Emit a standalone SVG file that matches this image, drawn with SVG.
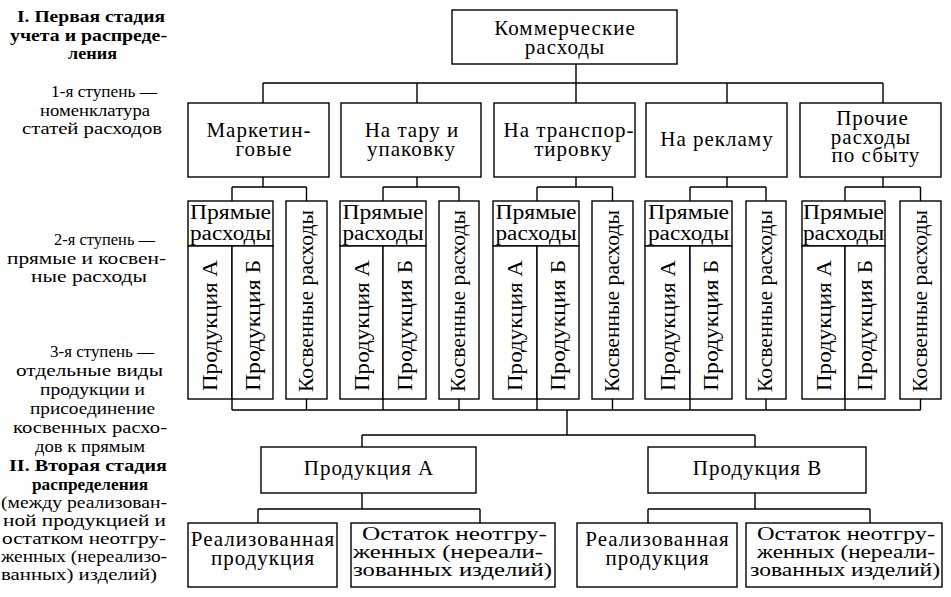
<svg xmlns="http://www.w3.org/2000/svg" width="951" height="597" viewBox="0 0 951 597">
<style>
.box{fill:#fff;stroke:#000;stroke-width:1.4}
.conn{fill:none;stroke:#000;stroke-width:1.4}
.t{font-family:"Liberation Serif","Times New Roman",serif;font-size:21px;letter-spacing:1px;text-anchor:middle;fill:#000}
.s{font-family:"Liberation Serif","Times New Roman",serif;font-size:19.5px;text-anchor:middle;fill:#000}
.h{font-family:"Liberation Serif","Times New Roman",serif;font-size:20px;text-anchor:middle;fill:#000}
.r{font-family:"Liberation Serif","Times New Roman",serif;font-size:20px;fill:#000}
.l{font-family:"Liberation Serif","Times New Roman",serif;font-size:17px;fill:#000}
.b{font-weight:bold}
</style>
<rect width="951" height="597" fill="#fff"/>
<g id="labels">
<text class="l b" x="17" y="22" textLength="148" lengthAdjust="spacingAndGlyphs">I. Первая стадия</text>
<text class="l b" x="10" y="41" textLength="157" lengthAdjust="spacingAndGlyphs">учета и распреде-</text>
<text class="l b" x="68" y="59" textLength="49" lengthAdjust="spacingAndGlyphs">ления</text>
<text class="l" x="51" y="97" textLength="106" lengthAdjust="spacingAndGlyphs">1-я ступень —</text>
<text class="l" x="40" y="116" textLength="110" lengthAdjust="spacingAndGlyphs">номенклатура</text>
<text class="l" x="22" y="134" textLength="140" lengthAdjust="spacingAndGlyphs">статей расходов</text>
<text class="l" x="54" y="245" textLength="101" lengthAdjust="spacingAndGlyphs">2-я ступень —</text>
<text class="l" x="7" y="264" textLength="159" lengthAdjust="spacingAndGlyphs">прямые и косвен-</text>
<text class="l" x="31" y="282" textLength="116" lengthAdjust="spacingAndGlyphs">ные расходы</text>
<text class="l" x="50" y="357" textLength="104" lengthAdjust="spacingAndGlyphs">3-я ступень —</text>
<text class="l" x="16" y="376" textLength="147" lengthAdjust="spacingAndGlyphs">отдельные виды</text>
<text class="l" x="40" y="395" textLength="105" lengthAdjust="spacingAndGlyphs">продукции и</text>
<text class="l" x="30" y="414" textLength="125" lengthAdjust="spacingAndGlyphs">присоединение</text>
<text class="l" x="13" y="433" textLength="154" lengthAdjust="spacingAndGlyphs">косвенных расхо-</text>
<text class="l" x="35" y="452" textLength="110" lengthAdjust="spacingAndGlyphs">дов к прямым</text>
<text class="l b" x="9" y="471" textLength="158" lengthAdjust="spacingAndGlyphs">II. Вторая стадия</text>
<text class="l b" x="32" y="490" textLength="116" lengthAdjust="spacingAndGlyphs">распределения</text>
<text class="l" x="1" y="508" textLength="166" lengthAdjust="spacingAndGlyphs">(между реализован-</text>
<text class="l" x="3" y="526" textLength="163" lengthAdjust="spacingAndGlyphs">ной продукцией и</text>
<text class="l" x="2" y="544" textLength="164" lengthAdjust="spacingAndGlyphs">остатком неотгру-</text>
<text class="l" x="1" y="562" textLength="166" lengthAdjust="spacingAndGlyphs">женных (нереализо-</text>
<text class="l" x="1" y="580" textLength="156" lengthAdjust="spacingAndGlyphs">ванных) изделий)</text>
</g>
<g id="connectors">
<path class="conn" d="M576,64V83M263,83H883M263,83V103M417,83V103M576,83V103M727,83V103M883,83V103"/>
<path class="conn" d="M263,177V187M232,187H306.5M232,187V201M306.5,187V201M417,177V187M383,187H459M383,187V201M459,187V201M576,177V187M537,187H612.5M537,187V201M612.5,187V201M727,177V187M690,187H766M690,187V201M766,187V201M883,177V187M845,187H920.5M845,187V201M920.5,187V201"/>
<path class="conn" d="M232,399V410M306.5,399V410M383,399V410M459,399V410M537,399V410M612.5,399V410M690,399V410M766,399V410M845,399V410M920.5,399V410M232,410H920.5"/>
<path class="conn" d="M567,410V435M362,435H755M362,435V447M755,435V447M362,493V509M258,509H480M258,509V523M480,509V523M755,493V509M648,509H870M648,509V523M870,509V523"/>
</g>
<g id="n-root">
<rect class="box" x="452" y="10" width="225" height="54"/>
<text class="t" x="565" y="35">Коммерческие</text>
<text class="t" x="565" y="54">расходы</text>
</g>
<g id="n-marketing">
<rect class="box" x="188" y="103" width="141" height="74"/>
<text class="t" x="259" y="137">Маркетин-</text>
<text class="t" x="264" y="156">говые</text>
</g>
<g id="n-tara">
<rect class="box" x="341" y="103" width="140" height="74"/>
<text class="t" x="412" y="137">На тару и</text>
<text class="t" x="411.5" y="156">упаковку</text>
</g>
<g id="n-transport">
<rect class="box" x="494" y="103" width="141" height="74"/>
<text class="t" x="569" y="137">На транспор-</text>
<text class="t" x="573.5" y="156">тировку</text>
</g>
<g id="n-reklama">
<rect class="box" x="646" y="103" width="141" height="74"/>
<text class="t" x="717" y="146">На рекламу</text>
</g>
<g id="n-prochie">
<rect class="box" x="800" y="103" width="141" height="74"/>
<text class="t" x="872.5" y="125">Прочие</text>
<text class="t" x="871" y="143.5">расходы</text>
<text class="t" x="876" y="162">по сбыту</text>
</g>
<g id="g1">
<rect class="box" x="188" y="201" width="85" height="45"/>
<text class="h" x="230.5" y="219" textLength="81" lengthAdjust="spacingAndGlyphs">Прямые</text>
<text class="h" x="230.5" y="240" textLength="81" lengthAdjust="spacingAndGlyphs">расходы</text>
<rect class="box" x="188" y="246" width="44" height="153"/>
<rect class="box" x="232" y="246" width="41" height="153"/>
<rect class="box" x="286" y="201" width="41" height="198"/>
<text class="r" transform="translate(217,391) rotate(-90)" textLength="131" lengthAdjust="spacingAndGlyphs">Продукция А</text>
<text class="r" transform="translate(259.5,391) rotate(-90)" textLength="131" lengthAdjust="spacingAndGlyphs">Продукция Б</text>
<text class="r" transform="translate(312.5,392) rotate(-90)" textLength="182" lengthAdjust="spacingAndGlyphs">Косвенные расходы</text>
</g>
<g id="g2">
<rect class="box" x="340" y="201" width="86" height="45"/>
<text class="h" x="383" y="219" textLength="81" lengthAdjust="spacingAndGlyphs">Прямые</text>
<text class="h" x="383" y="240" textLength="81" lengthAdjust="spacingAndGlyphs">расходы</text>
<rect class="box" x="340" y="246" width="43" height="153"/>
<rect class="box" x="383" y="246" width="43" height="153"/>
<rect class="box" x="439" y="201" width="40" height="198"/>
<text class="r" transform="translate(368.5,391) rotate(-90)" textLength="131" lengthAdjust="spacingAndGlyphs">Продукция А</text>
<text class="r" transform="translate(411.5,391) rotate(-90)" textLength="131" lengthAdjust="spacingAndGlyphs">Продукция Б</text>
<text class="r" transform="translate(465,392) rotate(-90)" textLength="182" lengthAdjust="spacingAndGlyphs">Косвенные расходы</text>
</g>
<g id="g3">
<rect class="box" x="493" y="201" width="86" height="45"/>
<text class="h" x="536" y="219" textLength="81" lengthAdjust="spacingAndGlyphs">Прямые</text>
<text class="h" x="536" y="240" textLength="81" lengthAdjust="spacingAndGlyphs">расходы</text>
<rect class="box" x="493" y="246" width="44" height="153"/>
<rect class="box" x="537" y="246" width="42" height="153"/>
<rect class="box" x="592" y="201" width="41" height="198"/>
<text class="r" transform="translate(522,391) rotate(-90)" textLength="131" lengthAdjust="spacingAndGlyphs">Продукция А</text>
<text class="r" transform="translate(565,391) rotate(-90)" textLength="131" lengthAdjust="spacingAndGlyphs">Продукция Б</text>
<text class="r" transform="translate(618.5,392) rotate(-90)" textLength="182" lengthAdjust="spacingAndGlyphs">Косвенные расходы</text>
</g>
<g id="g4">
<rect class="box" x="645" y="201" width="87" height="45"/>
<text class="h" x="688.5" y="219" textLength="81" lengthAdjust="spacingAndGlyphs">Прямые</text>
<text class="h" x="688.5" y="240" textLength="81" lengthAdjust="spacingAndGlyphs">расходы</text>
<rect class="box" x="645" y="246" width="45" height="153"/>
<rect class="box" x="690" y="246" width="42" height="153"/>
<rect class="box" x="746" y="201" width="40" height="198"/>
<text class="r" transform="translate(674.5,391) rotate(-90)" textLength="131" lengthAdjust="spacingAndGlyphs">Продукция А</text>
<text class="r" transform="translate(718,391) rotate(-90)" textLength="131" lengthAdjust="spacingAndGlyphs">Продукция Б</text>
<text class="r" transform="translate(772,392) rotate(-90)" textLength="182" lengthAdjust="spacingAndGlyphs">Косвенные расходы</text>
</g>
<g id="g5">
<rect class="box" x="802" y="201" width="83" height="45"/>
<text class="h" x="843.5" y="219" textLength="81" lengthAdjust="spacingAndGlyphs">Прямые</text>
<text class="h" x="843.5" y="240" textLength="81" lengthAdjust="spacingAndGlyphs">расходы</text>
<rect class="box" x="802" y="246" width="43" height="153"/>
<rect class="box" x="845" y="246" width="40" height="153"/>
<rect class="box" x="900" y="201" width="41" height="198"/>
<text class="r" transform="translate(830.5,391) rotate(-90)" textLength="131" lengthAdjust="spacingAndGlyphs">Продукция А</text>
<text class="r" transform="translate(872,391) rotate(-90)" textLength="131" lengthAdjust="spacingAndGlyphs">Продукция Б</text>
<text class="r" transform="translate(926.5,392) rotate(-90)" textLength="182" lengthAdjust="spacingAndGlyphs">Косвенные расходы</text>
</g>
<g id="n-prod-a">
<rect class="box" x="261" y="447" width="215" height="46"/>
<text class="t" x="369" y="475">Продукция А</text>
</g>
<g id="n-prod-v">
<rect class="box" x="648" y="447" width="218" height="46"/>
<text class="t" x="757.5" y="475">Продукция В</text>
</g>
<g id="n-real-a">
<rect class="box" x="188" y="523" width="149" height="64"/>
<text class="t" x="263" y="546">Реализованная</text>
<text class="t" x="263" y="565">продукция</text>
</g>
<g id="n-ost-a">
<rect class="box" x="351" y="523" width="204" height="64"/>
<text class="s" x="454.5" y="540" textLength="185" lengthAdjust="spacingAndGlyphs">Остаток неотгру-</text>
<text class="s" x="448" y="558" textLength="190" lengthAdjust="spacingAndGlyphs">женных (нереали-</text>
<text class="s" x="452.5" y="576" textLength="199" lengthAdjust="spacingAndGlyphs">зованных изделий)</text>
</g>
<g id="n-real-v">
<rect class="box" x="577" y="523" width="160" height="64"/>
<text class="t" x="657.5" y="546">Реализованная</text>
<text class="t" x="657.5" y="565">продукция</text>
</g>
<g id="n-ost-v">
<rect class="box" x="746" y="523" width="196" height="64"/>
<text class="s" x="846" y="540" textLength="178" lengthAdjust="spacingAndGlyphs">Остаток неотгру-</text>
<text class="s" x="846" y="558" textLength="178" lengthAdjust="spacingAndGlyphs">женных (нереали-</text>
<text class="s" x="845" y="576" textLength="190" lengthAdjust="spacingAndGlyphs">зованных изделий)</text>
</g>
</svg>
